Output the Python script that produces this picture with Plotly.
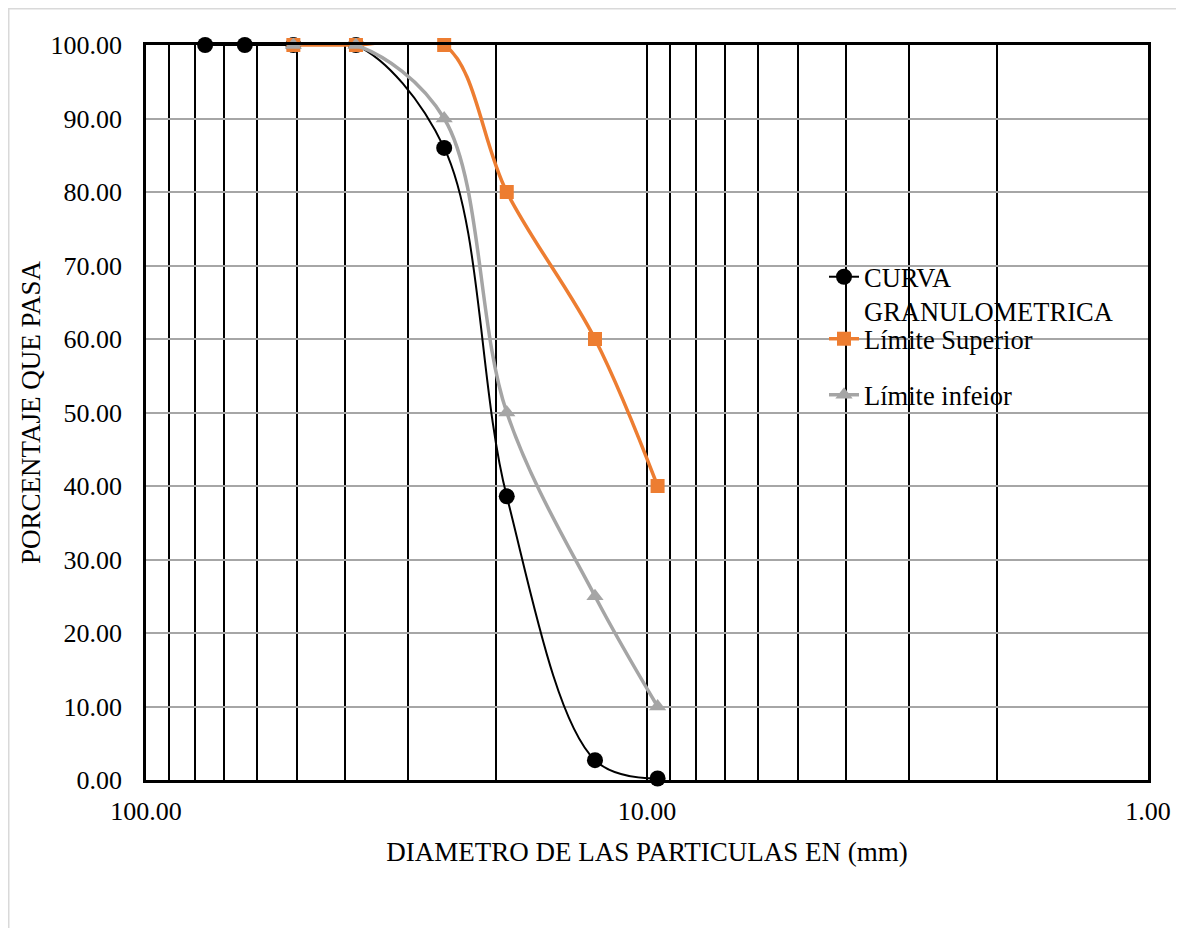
import plotly.graph_objects as go

# ---- data ----
diam = [76.2, 63.5, 50.8, 38.1, 25.4, 19.05, 12.7, 9.525]
curva = [100.0, 100.0, 100.0, 100.0, 86.0, 38.6, 2.7, 0.2]

lim_diam = [50.8, 38.1, 25.4, 19.05, 12.7, 9.525]
lim_sup = [100.0, 100.0, 100.0, 80.0, 60.0, 40.0]
lim_inf = [100.0, 100.0, 90.0, 50.0, 25.0, 10.0]

x_tickvals = [100, 90, 80, 70, 60, 50, 40, 30, 20, 10, 9, 8, 7, 6, 5, 4, 3, 2, 1]
x_ticktext = ["100.00"] + [""] * 8 + ["10.00"] + [""] * 8 + ["1.00"]

FONT = "Liberation Serif"
OFF = 8  # page body margin
W, H = 1184 - OFF, 928 - OFF
L, R, T, B = 146 - OFF, 36, 45 - OFF, 148
PW, PH = W - L - R, H - T - B


def px_x(p):
    # page pixel -> paper x
    return (p - OFF - L) / PW


def px_y(p):
    # page pixel -> paper y
    return (H - B - (p - OFF)) / PH


fig = go.Figure()
fig.add_trace(go.Scatter(
    x=diam, y=curva, name="CURVA<br>GRANULOMETRICA",
    mode="lines+markers", line=dict(color="black", width=2, shape="spline", smoothing=1),
    marker=dict(symbol="circle", size=16, color="black"), cliponaxis=False,
    legend="legend"))
fig.add_trace(go.Scatter(
    x=lim_diam, y=lim_sup, name="Límite Superior",
    mode="lines+markers", line=dict(color="#ED7D31", width=3.5, shape="spline", smoothing=1),
    marker=dict(symbol="square", size=14, color="#ED7D31"), cliponaxis=False,
    legend="legend2"))
fig.add_trace(go.Scatter(
    x=lim_diam, y=lim_inf, name="Límite infeior",
    mode="lines+markers", line=dict(color="#A5A5A5", width=3.5, shape="spline", smoothing=1),
    marker=dict(symbol="triangle-up", size=15, color="#A5A5A5"), cliponaxis=False,
    legend="legend3"))

leg_common = dict(font=dict(family=FONT, size=26.5, color="black"), bgcolor="rgba(0,0,0,0)",
                  borderwidth=0, xanchor="left", yanchor="top", valign="top",
                  itemclick=False)

fig.update_layout(
    width=W, height=H,
    margin=dict(l=L, r=R, t=T, b=B, autoexpand=False),
    paper_bgcolor="white", plot_bgcolor="white",
    font=dict(family=FONT, size=26, color="black"),
    showlegend=True,
    legend=dict(x=px_x(824), y=px_y(253), **leg_common),
    legend2=dict(x=px_x(824), y=px_y(315), **leg_common),
    legend3=dict(x=px_x(824), y=px_y(371), **leg_common),
    xaxis=dict(
        type="log", range=[2, 0],
        tickvals=x_tickvals, ticktext=x_ticktext,
        showgrid=True, gridcolor="black", gridwidth=2,
        showline=True, linecolor="black", linewidth=2.5, mirror=True,
        ticks="", ticklabelstandoff=6,
        tickfont=dict(family=FONT, size=26, color="black"),
        title=dict(text="DIAMETRO DE LAS PARTICULAS EN (mm)", standoff=18,
                   font=dict(family=FONT, size=27, color="black")),
        zeroline=False, automargin=False,
    ),
    yaxis=dict(
        range=[0, 100], tick0=0, dtick=10, tickformat=".2f",
        showgrid=True, gridcolor="#A6A6A6", gridwidth=2,
        showline=True, linecolor="black", linewidth=2.5, mirror=True,
        ticks="", ticklabelstandoff=16,
        tickfont=dict(family=FONT, size=26, color="black"),
        title=dict(text="PORCENTAJE QUE PASA", standoff=3,
                   font=dict(family=FONT, size=27, color="black")),
        zeroline=False, automargin=False,
    ),
    shapes=[dict(type="rect", xref="paper", yref="paper", layer="below",
                 x0=px_x(8.75), y0=px_y(960), x1=px_x(1220), y1=px_y(8.75),
                 line=dict(color="#D9D9D9", width=1.5), fillcolor="rgba(0,0,0,0)")],
)

fig.write_html("out.html")
